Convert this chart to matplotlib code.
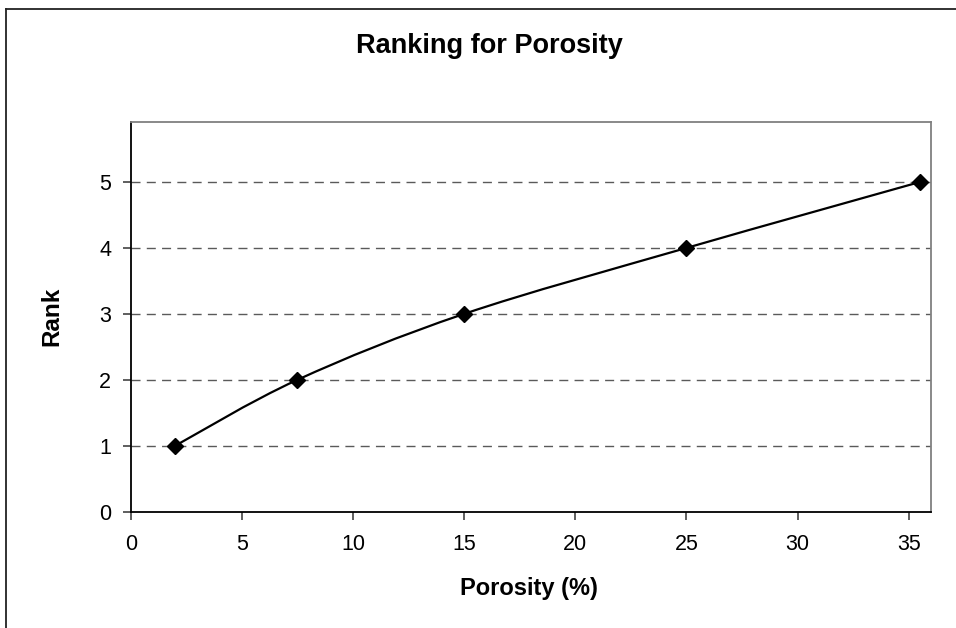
import matplotlib
matplotlib.use("Agg")
import matplotlib.pyplot as plt
from matplotlib.path import Path
from matplotlib.patches import PathPatch
from matplotlib.lines import Line2D
import numpy as np

porosity = [2, 7.5, 15, 25, 35.5]
rank = [1, 2, 3, 4, 5]
x_ticks = [0, 5, 10, 15, 20, 25, 30, 35]
y_ticks = [0, 1, 2, 3, 4, 5]

plt.rcParams['font.family'] = ['Liberation Sans', 'DejaVu Sans']

W, H = 956, 628
fig = plt.figure(figsize=(W / 100, H / 100), dpi=100)
ax = fig.add_axes([130.7 / W, 1 - 511.7 / H, (931 - 130.7) / W, (511.7 - 122) / H])

ax.set_xlim(0, 36)
ax.set_ylim(0, 5.91)

# smoothed line (Excel-style Catmull-Rom Bezier through the points)
pts = np.column_stack([porosity, rank]).astype(float)
n = len(pts)
verts = [tuple(pts[0])]
codes = [Path.MOVETO]
for i in range(n - 1):
    p0 = pts[i - 1] if i > 0 else pts[i]
    p1 = pts[i]
    p2 = pts[i + 1]
    p3 = pts[i + 2] if i + 2 < n else pts[i + 1]
    c1 = p1 + (p2 - p0) / 6.0
    c2 = p2 - (p3 - p1) / 6.0
    verts += [tuple(c1), tuple(c2), tuple(p2)]
    codes += [Path.CURVE4] * 3
ax.add_patch(PathPatch(Path(verts, codes), facecolor='none', edgecolor='black', lw=1.6, zorder=3))
ax.plot(porosity, rank, linestyle='none', marker='D', markersize=8.5, color='black', zorder=4)

ax.set_xticks(x_ticks)
ax.set_yticks(y_ticks)
for yv in y_ticks[1:]:
    ax.axhline(yv, color='#5a5a5a', lw=1.0, linestyle=(0, (6.5, 4.5)), zorder=1)

for s in ['left', 'bottom']:
    ax.spines[s].set_color('black')
    ax.spines[s].set_linewidth(1.3)
for s in ['top', 'right']:
    ax.spines[s].set_color('#808080')
    ax.spines[s].set_linewidth(1.3)

ax.tick_params(axis='both', direction='out', length=6, width=1.1, color='#333333', labelsize=15.5)
ax.tick_params(axis='x', pad=10)
ax.tick_params(axis='y', pad=8)

fig.text(0.5115, 1 - 46 / H, 'Ranking for Porosity', ha='center', va='center', fontsize=19.5, fontweight='bold')
fig.text(528.5 / W, 1 - 588 / H, 'Porosity (%)', ha='center', va='center', fontsize=17, fontweight='bold')
fig.text(51.7 / W, 1 - 316.7 / H, 'Rank', ha='center', va='center', fontsize=17.5, fontweight='bold', rotation=90)

# outer chart border (left and top visible)
fig.add_artist(Line2D([5.5 / W, 5.5 / W], [0, 1 - 8.7 / H], transform=fig.transFigure, color='#222222', lw=1.3))
fig.add_artist(Line2D([5.5 / W, 1], [1 - 8.7 / H, 1 - 8.7 / H], transform=fig.transFigure, color='#222222', lw=1.3))

fig.savefig('out.png', dpi=100)
